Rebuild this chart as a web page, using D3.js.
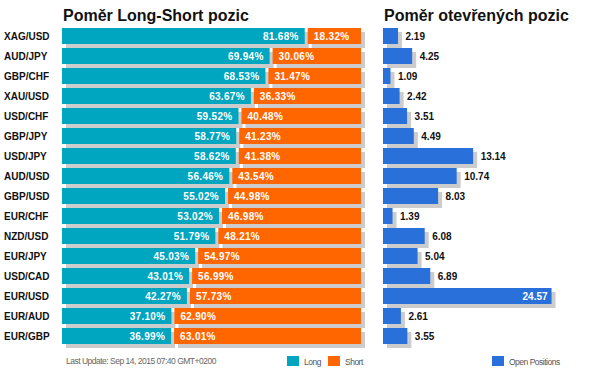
<!DOCTYPE html>
<html>
<head>
<meta charset="utf-8">
<script src="https://cdn.jsdelivr.net/npm/d3@7"></script>
<style>
  body { margin: 0; background: #fff; }
  svg { display: block; font-family: "Liberation Sans", Arial, sans-serif; }
  .title { font-size: 16px; font-weight: bold; fill: #111; }
  .cat { font-size: 10px; font-weight: bold; fill: #111; }
  .pct { font-size: 10px; font-weight: bold; fill: #fff; letter-spacing: 0.3px; }
  .val { font-size: 10px; font-weight: bold; fill: #111; }
  .small { font-size: 8.5px; fill: #666; letter-spacing: -0.5px; }
</style>
</head>
<body>
<div id="chart"></div>
<script>
var pairs = ["XAG/USD", "AUD/JPY", "GBP/CHF", "XAU/USD", "USD/CHF", "GBP/JPY", "USD/JPY", "AUD/USD",
             "GBP/USD", "EUR/CHF", "NZD/USD", "EUR/JPY", "USD/CAD", "EUR/USD", "EUR/AUD", "EUR/GBP"];
var longPct = [81.68, 69.94, 68.53, 63.67, 59.52, 58.77, 58.62, 56.46, 55.02, 53.02, 51.79, 45.03, 43.01, 42.27, 37.10, 36.99];
var shortPct = [18.32, 30.06, 31.47, 36.33, 40.48, 41.23, 41.38, 43.54, 44.98, 46.98, 48.21, 54.97, 56.99, 57.73, 62.90, 63.01];
var openPos = [2.19, 4.25, 1.09, 2.42, 3.51, 4.49, 13.14, 10.74, 8.03, 1.39, 6.08, 5.04, 6.89, 24.57, 2.61, 3.55];
var lastUpdate = "Last Update: Sep 14, 2015 07:40 GMT+0200";

var colors = { long: "#00a5bf", short: "#ff6600", open: "#2a70da", shadow: "#cccccc" };
var shadow = 4, gap = 1.5;

var svg = d3.select("#chart").append("svg")
        .attr("width", 589)
        .attr("height", 374);

var y = d3.scaleBand()
        .domain(pairs)
        .range([26, 346])
        .paddingInner(0.2)
        .paddingOuter(0.1);

var xl = d3.scaleLinear()
        .domain([0, 100])
        .range([62, 361]);

var xr = d3.scaleLinear()
        .domain([0, 25])
        .range([383, 554.5]);

var rows = pairs.map(function(p, i) {
    return { pair: p, long: longPct[i], short: shortPct[i], open: openPos[i] };
});

// titles
svg.append("text").attr("class", "title").attr("x", 63).attr("y", 21).text("Poměr Long-Short pozic");
svg.append("text").attr("class", "title").attr("x", 384).attr("y", 21).text("Poměr otevřených pozic");

// category labels
svg.selectAll("text.cat").data(rows)
    .enter().append("text")
        .attr("class", "cat")
        .attr("x", 4)
        .attr("y", function(d) { return y(d.pair) + y.bandwidth() / 2 + 3.5; })
        .text(function(d) { return d.pair; });

// left chart: long / short
var g = svg.selectAll("g.row").data(rows)
    .enter().append("g")
        .attr("class", "row");

var longStart = function() { return xl(0); };
var longEnd = function(d) { return xl(d.long) - gap; };
var shortStart = function(d) { return xl(d.long) + gap; };
var shortEnd = function() { return xl(100); };

// shadows of both segments first, then the bars and labels
g.each(function(d) {
    var s = d3.select(this);
    [[longStart, longEnd], [shortStart, shortEnd]].forEach(function(p) {
        s.append("rect")
            .attr("x", p[0](d) + shadow)
            .attr("y", y(d.pair) + shadow)
            .attr("width", p[1](d) - p[0](d))
            .attr("height", y.bandwidth())
            .attr("fill", colors.shadow);
    });
    s.append("rect")
        .attr("x", longStart(d)).attr("y", y(d.pair))
        .attr("width", longEnd(d) - longStart(d)).attr("height", y.bandwidth())
        .attr("fill", colors.long);
    s.append("rect")
        .attr("x", shortStart(d)).attr("y", y(d.pair))
        .attr("width", shortEnd(d) - shortStart(d)).attr("height", y.bandwidth())
        .attr("fill", colors.short);
    s.append("text")
        .attr("class", "pct")
        .attr("x", longEnd(d) - 6)
        .attr("y", y(d.pair) + y.bandwidth() / 2 + 3.5)
        .attr("text-anchor", "end")
        .text(d.long.toFixed(2) + "%");
    s.append("text")
        .attr("class", "pct")
        .attr("x", shortStart(d) + 6)
        .attr("y", y(d.pair) + y.bandwidth() / 2 + 3.5)
        .text(d.short.toFixed(2) + "%");
});

// right chart: open positions
var r = svg.selectAll("g.open").data(rows)
    .enter().append("g")
        .attr("class", "open");

r.append("rect")
    .attr("x", xr(0) + shadow)
    .attr("y", function(d) { return y(d.pair) + shadow; })
    .attr("width", function(d) { return xr(d.open) - xr(0); })
    .attr("height", y.bandwidth())
    .attr("fill", colors.shadow);

r.append("rect")
    .attr("x", xr(0))
    .attr("y", function(d) { return y(d.pair); })
    .attr("width", function(d) { return xr(d.open) - xr(0); })
    .attr("height", y.bandwidth())
    .attr("fill", colors.open);

r.append("text")
    .attr("class", "val")
    .attr("x", function(d) { return d.open > 20 ? xr(d.open) - 4 : xr(d.open) + 7.5; })
    .attr("y", function(d) { return y(d.pair) + y.bandwidth() / 2 + 3.5; })
    .attr("text-anchor", function(d) { return d.open > 20 ? "end" : "start"; })
    .style("fill", function(d) { return d.open > 20 ? "#fff" : "#111"; })
    .text(function(d) { return d.open.toFixed(2); });

// footer + legends
svg.append("text").attr("class", "small").attr("x", 66).attr("y", 364).text(lastUpdate);

var legend = [
    { x: 287, label: "Long", color: colors.long },
    { x: 328, label: "Short", color: colors.short },
    { x: 492, label: "Open Positions", color: colors.open }
];
var lg = svg.selectAll("g.legend").data(legend)
    .enter().append("g")
        .attr("class", "legend")
        .attr("transform", function(d) { return "translate(" + d.x + ",356)"; });
lg.append("rect").attr("width", 12).attr("height", 10).attr("fill", function(d) { return d.color; });
lg.append("text").attr("class", "small").attr("x", 17).attr("y", 8.5).style("fill", "#555").text(function(d) { return d.label; });
</script>
</body>
</html>
